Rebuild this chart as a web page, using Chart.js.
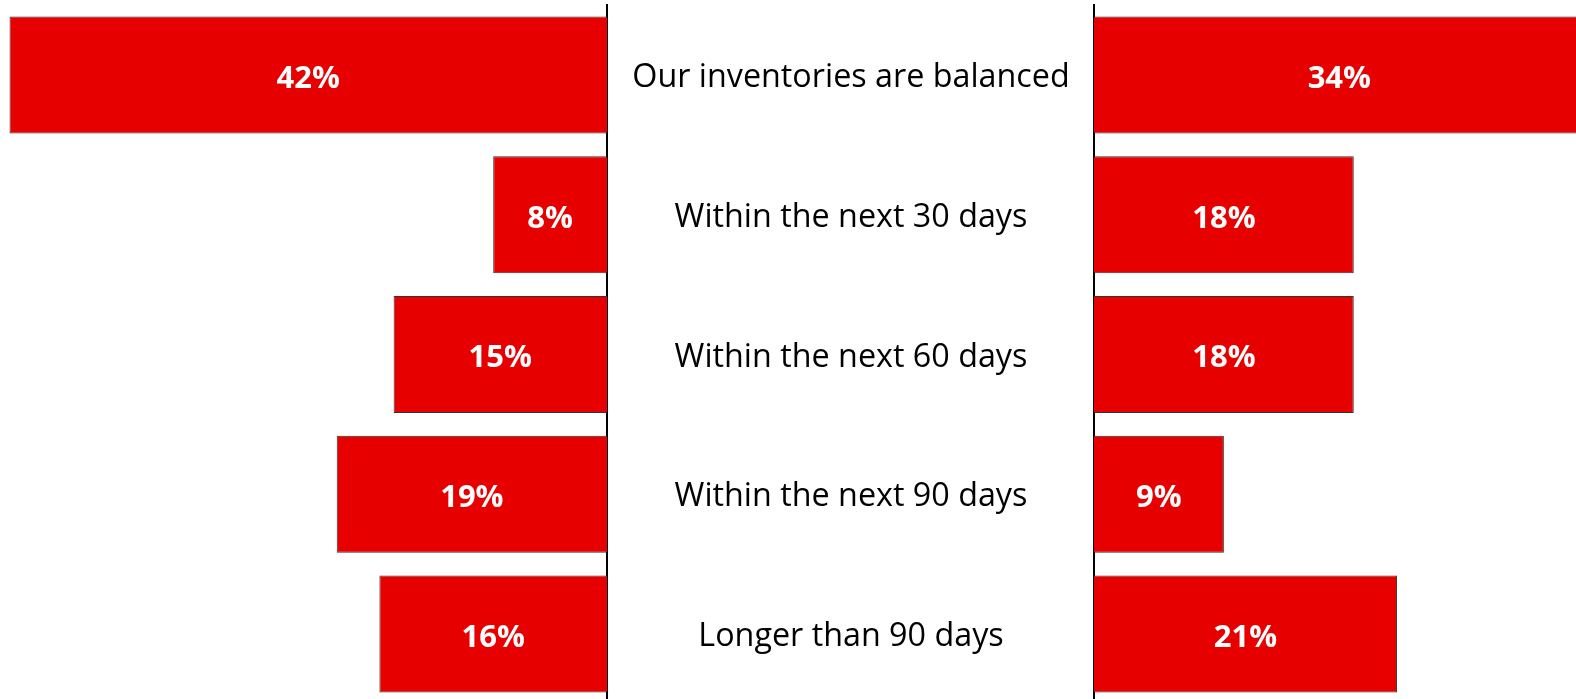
<!DOCTYPE html>
<html>
<head>
<meta charset="utf-8">
<script src="https://cdn.jsdelivr.net/npm/chart.js@4.4.0/dist/chart.umd.min.js"></script>
<style>
  html, body { margin: 0; padding: 0; background: #fff; overflow: hidden; }
  #wrap { position: relative; width: 1576px; height: 699px; overflow: hidden; }
  #left_box { position: absolute; left: 0; top: 0; width: 1093px; height: 704px; }
  #right_box { position: absolute; left: 1085px; top: 0; width: 491px; height: 704px; }
</style>
</head>
<body>
<div id="wrap">
  <div id="left_box"><canvas id="left_chart"></canvas></div>
  <div id="right_box"><canvas id="right_chart"></canvas></div>
</div>
<script>
const categories = [
    'Our inventories are balanced',
    'Within the next 30 days',
    'Within the next 60 days',
    'Within the next 90 days',
    'Longer than 90 days'
];
const left_values = [42, 8, 15, 19, 16];
const right_values = [34, 18, 18, 9, 21];
const left_max = 42.67;
const right_max = 33.4;

const bar_red = 'rgb(230, 0, 0)';
const bar_edge = '#333333';

// white % labels in the middle of each bar
const valueLabels = {
    id: 'valueLabels',
    afterDatasetsDraw(chart){
        const ctx = chart.ctx;
        const meta = chart.getDatasetMeta(0);
        const data = chart.data.datasets[0].data;
        ctx.save();
        ctx.fillStyle = '#fff';
        ctx.font = 'bold 31px "Open Sans"';
        ctx.textAlign = 'center';
        ctx.textBaseline = 'middle';
        meta.data.forEach(function(bar, i){
            const p = bar.getProps(['x', 'y', 'base'], true);
            ctx.fillText(data[i] + '%', (p.x + p.base) / 2, p.y + 4);
        });
        ctx.restore();
    }
};

// category labels centered in the gap (the left chart's y axis area)
const centerLabels = {
    id: 'centerLabels',
    afterDraw(chart){
        const ctx = chart.ctx;
        const yScale = chart.scales.y;
        const cx = (yScale.left + yScale.right) / 2 + 1;
        ctx.save();
        ctx.fillStyle = '#000';
        ctx.font = '32.3px "Open Sans"';
        ctx.textAlign = 'center';
        ctx.textBaseline = 'middle';
        chart.data.labels.forEach(function(label, i){
            ctx.fillText(label, cx, yScale.getPixelForValue(i) + 3);
        });
        ctx.restore();
    }
};

function barDataset(values){
    return {
        data: values,
        backgroundColor: bar_red,
        borderColor: bar_edge,
        borderWidth: 1,
        categoryPercentage: 1.0,
        barPercentage: 0.837
    };
}

function initLeftChart(){
    const ctx = document.getElementById('left_chart').getContext('2d');
    new Chart(ctx, {
        type: 'bar',
        data: {
            labels: categories,
            datasets: [barDataset(left_values)]
        },
        options: {
            indexAxis: 'y',
            responsive: true,
            maintainAspectRatio: false,
            animation: false,
            layout: { padding: { top: 5, left: 0, right: 0, bottom: 0 } },
            plugins: { legend: { display: false }, tooltip: { enabled: false } },
            scales: {
                x: { display: false, reverse: true, min: 0, max: left_max },
                y: {
                    position: 'right',
                    grid: { display: false },
                    border: { display: true, color: '#000', width: 2 },
                    ticks: { display: false },
                    afterFit: function(scale){ scale.width = 486; }
                }
            }
        },
        plugins: [valueLabels, centerLabels]
    });
}

function initRightChart(){
    const ctx = document.getElementById('right_chart').getContext('2d');
    new Chart(ctx, {
        type: 'bar',
        data: {
            labels: categories,
            datasets: [barDataset(right_values)]
        },
        options: {
            indexAxis: 'y',
            responsive: true,
            maintainAspectRatio: false,
            animation: false,
            layout: { padding: { top: 5, left: 0, right: 0, bottom: 0 } },
            plugins: { legend: { display: false }, tooltip: { enabled: false } },
            scales: {
                x: { display: false, min: 0, max: right_max },
                y: {
                    position: 'left',
                    grid: { display: false },
                    border: { display: true, color: '#000', width: 2 },
                    ticks: { display: false },
                    afterFit: function(scale){ scale.width = 9; }
                }
            }
        },
        plugins: [valueLabels]
    });
}

initLeftChart();
initRightChart();
</script>
</body>
</html>
